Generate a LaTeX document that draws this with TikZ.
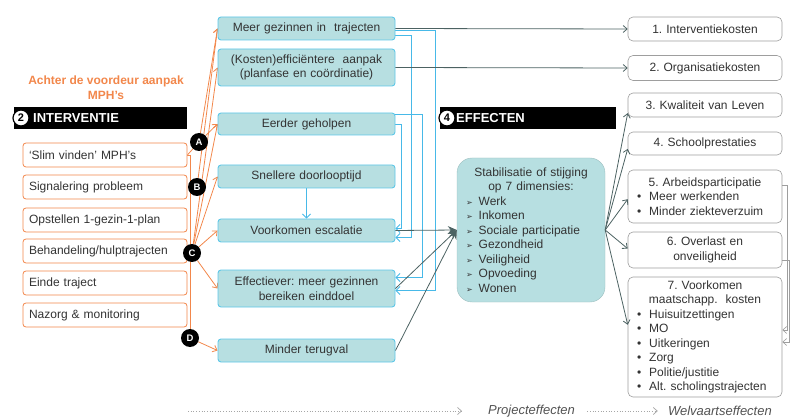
\documentclass[tikz,border=0pt]{standalone}
\usepackage{fontspec}
\setmainfont{Liberation Sans}
\newfontfamily\symfont{DejaVu Sans}
\usepackage{tikz}
\usetikzlibrary{calc,arrows.meta,positioning,backgrounds}

\definecolor{mphorange}{HTML}{F2874B}
\definecolor{mphteal}{HTML}{B7DFE1}
\definecolor{mphcyan}{HTML}{5EC7E8}
\definecolor{mphblue}{HTML}{47B9E8}
\definecolor{darkline}{HTML}{4C6262}
\definecolor{boxgrey}{HTML}{9E9E9E}
\definecolor{txtgrey}{HTML}{333333}

\newcommand{\dimbullet}{{\symfont\fontsize{8}{8}\selectfont ➢}\hspace{6pt}}
\newcommand{\rbullet}{\hspace*{6pt}\textbullet\hspace{8pt}}

\begin{document}
\frenchspacing
\begin{tikzpicture}[x=1pt,y=-1pt]

% --- STYLES ---
\tikzset{
  basetext/.style={font=\fontsize{12}{14.5}\selectfont, text=txtgrey},
  ohead/.style={font=\fontsize{12}{15}\selectfont\bfseries, text=mphorange, align=center},
  ibox/.style={basetext, draw=mphorange, line width=0.8pt, fill=white,
               rounded corners=3pt, text width=152pt, align=left,
               inner xsep=6pt, minimum height=24pt},
  mbox/.style={basetext, draw=mphcyan, line width=0.9pt, fill=mphteal,
               rounded corners=3pt, text width=171pt, align=center,
               inner xsep=3pt, minimum height=23pt},
  rbox/.style={basetext, draw=boxgrey, line width=0.6pt, fill=white,
               rounded corners=5pt, text width=148pt, align=center,
               inner xsep=3pt, minimum height=24pt},
  % list boxes: alignment set inside the text
  rlist/.style={basetext, draw=boxgrey, line width=0.6pt, fill=white,
                rounded corners=5pt, text width=148pt, inner xsep=3pt},
  stabbox/.style={basetext, fill=mphteal, draw=mphteal!85!black,
                  line width=0.4pt, rounded corners=15pt, text width=130pt,
                  inner xsep=9pt, minimum height=144pt},
  letter/.style={circle, fill=black, text=white,
                 font=\fontsize{9.5}{9.5}\selectfont\bfseries,
                 inner sep=0pt, minimum size=18pt},
  headbar/.style={fill=black, minimum width=173pt, minimum height=22pt, inner sep=0pt},
  headnum/.style={circle, draw=black, line width=1.2pt, fill=white,
                  font=\fontsize{11}{11}\selectfont\bfseries,
                  inner sep=0pt, minimum size=16pt},
  headtext/.style={text=white, font=\fontsize{13}{13}\selectfont\bfseries, inner sep=0pt},
  oline/.style={mphorange, line width=0.8pt},
  oarrow/.style={oline, -{Straight Barb[length=4pt,width=7pt]}},
  barrow/.style={mphblue, line width=0.8pt, -{Straight Barb[length=4pt,width=8pt]}},
  darrow/.style={darkline, line width=0.8pt, -{Straight Barb[length=4pt,width=7pt]}},
  stabarrow/.style={darkline, line width=0.8pt, -{Stealth[length=9pt,width=8pt]}},
  garrow/.style={boxgrey, line width=0.6pt, -{Straight Barb[length=4pt,width=7pt]}},
  legend/.style={gray!70, line width=0.7pt, dotted, -{Straight Barb[length=4pt,width=7pt]}},
  legendtext/.style={font=\fontsize{13}{13}\selectfont\itshape, text=txtgrey!85, inner sep=0pt},
}

\useasboundingbox (0,0) rectangle (791,419);

% ================= LEFT: INTERVENTIE =================
\node[ohead] (achter) at (106,88) {Achter de voordeur aanpak\\MPH's};

\node[headbar, anchor=west] (intbar) at (14,118) {};
\node[headnum] (intnum) at (21,118) {2};
\node[headtext, anchor=west] (inttxt) at (33,118) {INTERVENTIE};

\node[ibox] (slim)   at (105,155) {`Slim vinden' MPH's};
\node[ibox] (sign)   at (105,187) {Signalering probleem};
\node[ibox] (opst)   at (105,220) {Opstellen 1-gezin-1-plan};
\node[ibox] (behan)  at (105,251) {Behandeling/hulptrajecten};
\node[ibox] (einde)  at (105,283) {Einde traject};
\node[ibox] (nazorg) at (105,315) {Nazorg \& monitoring};

\node[letter] (circA) at (199,142) {A};
\node[letter] (circB) at (197,187) {B};
\node[letter] (circC) at (192,253) {C};
\node[letter] (circD) at (190,338) {D};

% ================= MIDDLE: PROJECTEFFECTEN =================
\node[mbox] (meer)   at (306.5,28.5) {Meer gezinnen in\ \ trajecten};
\node[mbox, minimum height=37pt] (kosten) at (306.5,67.5)
      {(Kosten)effici\"entere\ \ aanpak\\(planfase en co\"ordinatie)};
\node[mbox, minimum height=22pt] (eerder) at (306.5,124) {Eerder geholpen};
\node[mbox] (snel)   at (306.5,176.5) {Snellere doorlooptijd};
\node[mbox] (voork)  at (306.5,230.5) {Voorkomen escalatie};
\node[mbox, minimum height=37pt] (eff) at (306.5,288.5)
      {Effectiever: meer gezinnen\\bereiken einddoel};
\node[mbox] (minder) at (306.5,350.5) {Minder terugval};

% ================= EFFECTEN =================
\node[headbar, minimum width=176pt, anchor=west] (effbar) at (440,118) {};
\node[headnum] (effnum) at (447,118) {4};
\node[headtext, anchor=west] (efftxt) at (456,118) {EFFECTEN};

\node[stabbox] (stab) at (531,230) {%
  \centering Stabilisatie of stijging\\op 7 dimensies:\par
  \raggedright
  \dimbullet Werk\\
  \dimbullet Inkomen\\
  \dimbullet Sociale participatie\\
  \dimbullet Gezondheid\\
  \dimbullet Veiligheid\\
  \dimbullet Opvoeding\\
  \dimbullet Wonen};

% ================= RIGHT: WELVAARTSEFFECTEN =================
\node[rbox] (r1) at (705,29)  {1. Interventiekosten};
\node[rbox, minimum height=25pt] (r2) at (705,68) {2. Organisatiekosten};
\node[rbox] (r3) at (705,105) {3. Kwaliteit van Leven};
\node[rbox, minimum height=23pt] (r4) at (705,143.5) {4. Schoolprestaties};
\node[rlist, minimum height=53pt] (r5) at (705,196.5) {%
  \centering 5. Arbeidsparticipatie\par
  \raggedright
  \rbullet Meer werkenden\\
  \rbullet Minder ziekteverzuim};
\node[rbox, minimum height=36pt] (r6) at (705,250) {6. Overlast en\\onveiligheid};
\node[rlist, minimum height=120pt] (r7) at (705,337) {%
  \centering 7. Voorkomen\\maatschapp.\ \ kosten\par
  \raggedright
  \rbullet Huisuitzettingen\\
  \rbullet MO\\
  \rbullet Uitkeringen\\
  \rbullet Zorg\\
  \rbullet Politie/justitie\\
  \rbullet Alt. scholingstrajecten};

% ================= LEGEND =================
\coordinate (legstart) at (188,411);
\node[legendtext, anchor=west] (projlbl) at (488,411) {Projecteffecten};
\node[legendtext, anchor=east] (welvlbl) at (772,411) {Welvaartseffecten};

% ================= CONNECTORS =================
\begin{scope}[on background layer]
  % orange spine and fan
  \draw[oline] (slim.east) -- (circA);
  \draw[oline] (slim.east) -| (circD);
  \foreach \c/\m in {circA/meer, circA/eerder, circB/meer,
                     circC/kosten, circC/eerder, circC/snel,
                     circC/voork, circC/eff, circD/minder} {
    \draw[oarrow] (\c) -- (\m.west);
  }

  % blue feedback lines
  \draw[barrow] ([yshift=-1.5pt]meer.east) -- ++(40,0) |- ([yshift=-2pt]eff.east);
  \draw[barrow] ([yshift=-6.5pt]meer.east) -- ++(16,0) |- ([yshift=-7pt]voork.east);
  \draw[barrow] ([yshift=10pt]eerder.east) -- ++(27,0) |- ([yshift=11pt]eff.east);
  \draw[barrow] (eerder.east) -- ++(6,0) |- ([yshift=2pt]voork.east);
  \draw[barrow] (snel) -- (voork);
\end{scope}

% costs
\draw[darrow] (meer.east) -- (r1.west);
\draw[darrow] (kosten.east) -- (r2.west);

% into stabilisatie
\foreach \m in {voork, eff, minder} {
  \draw[stabarrow] (\m.east) -- (stab.west);
}

% out of stabilisatie
\foreach \r/\ang in {r3/186, r4/184, r5/182, r6/179, r7/171} {
  \draw[darrow] (stab.east) -- (\r.\ang);
}

% right hand feedback
\draw[garrow] ([yshift=11pt]r5.east) -- ++(5,0) |- ([yshift=7pt]r7.east);
\draw[garrow] ([yshift=-10pt]r6.east) -- ++(7,0) |- ([yshift=-5pt]r7.east);

% legend arrows
\draw[legend] (legstart) -- ([xshift=-26pt]projlbl.west);
\draw[legend] ([xshift=12pt]projlbl.east) -- ([xshift=-10pt]welvlbl.west);

\end{tikzpicture}
\end{document}
